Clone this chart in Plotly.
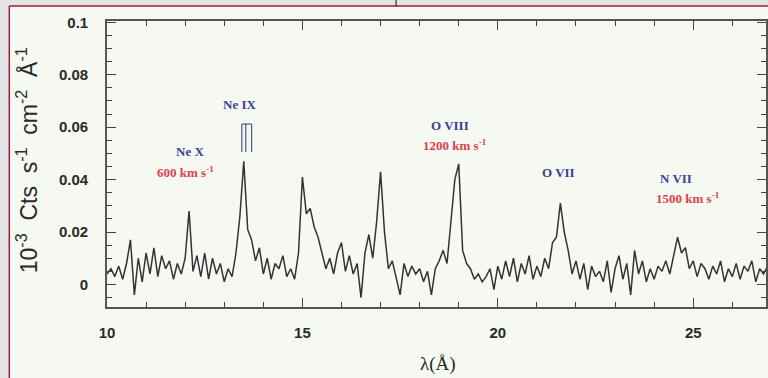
import numpy as np
import plotly.graph_objects as go

# Wavelength grid (Angstrom) and measured flux density (10^-3 Cts s^-1 cm^-2 A^-1)
wavelength = np.round(np.arange(10.0, 26.95, 0.1), 2)
flux = [
    0.004, 0.006, 0.003, 0.007, 0.002, 0.008, 0.017, -0.004, 0.010, 0.001,   # 10.0-10.9
    0.012, 0.004, 0.014, 0.003, 0.011, 0.006, 0.009, 0.002, 0.008, 0.004,    # 11.0-11.9
    0.010, 0.028, 0.005, 0.011, 0.003, 0.012, 0.002, 0.010, 0.004, 0.008,    # 12.0-12.9
    0.001, 0.006, 0.003, 0.012, 0.026, 0.047, 0.021, 0.017, 0.009, 0.014,    # 13.0-13.9
    0.004, 0.010, 0.002, 0.008, 0.006, 0.011, 0.003, 0.006, 0.002, 0.012,    # 14.0-14.9
    0.041, 0.027, 0.029, 0.022, 0.018, 0.012, 0.006, 0.010, 0.004, 0.012,    # 15.0-15.9
    0.016, 0.005, 0.011, 0.004, 0.008, -0.005, 0.012, 0.019, 0.010, 0.024,   # 16.0-16.9
    0.043, 0.020, 0.006, 0.009, 0.002, -0.004, 0.008, 0.003, 0.007, 0.004,   # 17.0-17.9
    0.006, 0.001, 0.005, -0.004, 0.006, 0.009, 0.013, 0.008, 0.024, 0.040,   # 18.0-18.9
    0.046, 0.013, 0.008, 0.006, 0.002, 0.004, 0.001, 0.003, 0.006, -0.002,   # 19.0-19.9
    0.007, 0.002, 0.009, 0.003, 0.010, 0.001, 0.008, 0.004, 0.011, 0.002,    # 20.0-20.9
    0.007, 0.003, 0.010, 0.006, 0.016, 0.018, 0.031, 0.020, 0.013, 0.004,    # 21.0-21.9
    0.009, 0.002, 0.008, -0.002, 0.007, 0.003, 0.005, 0.001, 0.009, -0.003,  # 22.0-22.9
    0.006, 0.011, 0.002, 0.008, -0.004, 0.013, 0.004, 0.009, 0.001, 0.006,   # 23.0-23.9
    0.002, 0.007, 0.005, 0.009, 0.004, 0.011, 0.018, 0.012, 0.014, 0.006,    # 24.0-24.9
    0.009, 0.003, 0.008, 0.006, 0.002, 0.007, 0.004, 0.009, 0.001, 0.006,    # 25.0-25.9
    0.003, 0.008, 0.002, 0.007, 0.005, 0.009, 0.001, 0.006, 0.004, 0.007,    # 26.0-26.9
]

# Line identifications and velocity widths
ion_labels = ["Ne X", "Ne IX", "O VIII", "O VII", "N VII"]
ion_x = [12.12, 13.39, 18.78, 21.56, 24.57]
ion_y = [0.0506, 0.0685, 0.0605, 0.0429, 0.0406]
width_labels = ["600 km s<sup>-1</sup>", "1200 km s<sup>-1</sup>", "1500 km s<sup>-1</sup>"]
width_x = [12.02, 18.90, 24.87]
width_y = [0.0429, 0.0532, 0.0330]

# Ne IX triplet (r, i, f) marker positions
ne9_lines = [13.45, 13.55, 13.70]
ne9_top, ne9_bottom = 0.0612, 0.0505

x_ticks = [10, 15, 20, 25]
y_ticks = [0, 0.02, 0.04, 0.06, 0.08, 0.1]
y_tick_text = ["0", "0.02", "0.04", "0.06", "0.08", "0.1"]

BLUE = "#3b3f9a"
RED = "#e0404a"
INK = "#2a2a2a"
PAGE = "#f6f8f2"
MAROON = "#a3174b"
FRAME_GREY = "#e4e4e4"

fig = go.Figure()
fig.add_trace(go.Scatter(
    x=wavelength, y=flux, mode="lines",
    line=dict(color="#333333", width=1.5),
    hoverinfo="skip", showlegend=False,
))

# Ne IX triplet bracket
fig.add_shape(type="line", x0=ne9_lines[0], x1=ne9_lines[-1], y0=ne9_top, y1=ne9_top,
              line=dict(color="#50558f", width=1.2))
for lam in ne9_lines:
    fig.add_shape(type="line", x0=lam, x1=lam, y0=ne9_bottom, y1=ne9_top,
                  line=dict(color="#50558f", width=1.2))

label_font = dict(family="Liberation Serif", size=13, weight="bold")
for txt, x, y in zip(ion_labels, ion_x, ion_y):
    fig.add_annotation(x=x, y=y, text=txt, showarrow=False,
                       font=dict(color=BLUE, **label_font))
for txt, x, y in zip(width_labels, width_x, width_y):
    fig.add_annotation(x=x, y=y, text=txt, showarrow=False,
                       font=dict(color=RED, **label_font))

# Axis titles
fig.add_annotation(xref="paper", yref="paper", x=(27 - 107) / 661, y=(307 - 160) / 286,
                   xanchor="center", yanchor="middle",
                   text="10<sup>-3</sup>  Cts  s<sup>-1</sup>  cm<sup>-2</sup>  Å<sup>-1</sup>",
                   textangle=-90, showarrow=False,
                   font=dict(family="Liberation Sans", size=23, color=INK))
fig.add_annotation(xref="paper", yref="paper", x=(439 - 107) / 661, y=(307 - 364) / 286,
                   xanchor="center", yanchor="middle",
                   text="λ(Å)", showarrow=False,
                   font=dict(family="Liberation Serif", size=19, color=INK))

# Page frame: grey margins with maroon rules
fig.add_shape(type="rect", xref="paper", yref="paper",
              x0=-0.2, x1=1.05, y0=(307 - 6) / 286, y1=1.2,
              fillcolor=FRAME_GREY, line=dict(width=0), layer="below")
fig.add_shape(type="rect", xref="paper", yref="paper",
              x0=-0.2, x1=(9 - 107) / 661, y0=-0.3, y1=1.2,
              fillcolor=FRAME_GREY, line=dict(width=0), layer="below")
fig.add_shape(type="line", xref="paper", yref="paper",
              x0=(9 - 107) / 661, x1=1.05, y0=(307 - 6) / 286, y1=(307 - 6) / 286,
              line=dict(color=MAROON, width=1.5))
fig.add_shape(type="line", xref="paper", yref="paper",
              x0=(9 - 107) / 661, x1=(9 - 107) / 661, y0=-0.3, y1=(307 - 6) / 286,
              line=dict(color=MAROON, width=1.5))
fig.add_shape(type="line", xref="paper", yref="paper",
              x0=(397 - 107) / 661, x1=(397 - 107) / 661, y0=(307 - 6) / 286, y1=1.2,
              line=dict(color="#111111", width=1))

tick_font = dict(family="Liberation Sans", size=15, color=INK, weight="bold")
fig.update_xaxes(
    range=[10, 10 + 661 / 39.2], tickvals=x_ticks, ticks="inside", ticklen=9,
    tickwidth=1.2, tickcolor="#444", showline=True, linecolor="#555", linewidth=1.6,
    mirror="ticks", showgrid=False, zeroline=False, tickfont=tick_font,
    ticklabelstandoff=11,
    minor=dict(dtick=1, ticks="inside", ticklen=5, tickcolor="#444", showgrid=False),
)
fig.update_yaxes(
    range=[-0.0086, 0.1005], tickvals=y_ticks, ticktext=y_tick_text, ticks="inside",
    ticklen=9, tickwidth=1.2, tickcolor="#444", showline=True, linecolor="#555",
    linewidth=1.6, mirror="ticks", showgrid=False, zeroline=False, tickfont=tick_font,
    ticklabelstandoff=14,
    minor=dict(dtick=0.005, tick0=0, ticks="inside", ticklen=5, tickcolor="#444",
               showgrid=False),
)
fig.update_layout(
    width=768, height=378,
    margin=dict(l=107, r=0, t=21, b=71),
    paper_bgcolor=PAGE, plot_bgcolor=PAGE,
    showlegend=False,
)

fig.write_html("out.html")
